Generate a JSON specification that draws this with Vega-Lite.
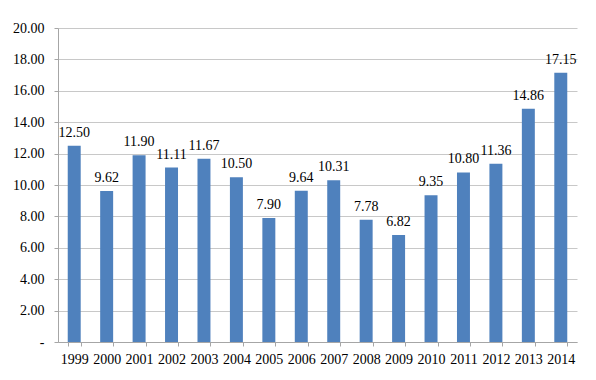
{
  "$schema": "https://vega.github.io/schema/vega-lite/v6.json",
  "autosize": {"type": "none"},
  "padding": {"left": 58, "top": 28, "right": 19, "bottom": 38},
  "width": 519,
  "height": 314,
  "background": "white",
  "config": {
    "view": {"stroke": null},
    "font": "Liberation Serif"
  },
  "data": {
    "values": [
      {"year": "1999", "value": 12.50},
      {"year": "2000", "value": 9.62},
      {"year": "2001", "value": 11.90},
      {"year": "2002", "value": 11.11},
      {"year": "2003", "value": 11.67},
      {"year": "2004", "value": 10.50},
      {"year": "2005", "value": 7.90},
      {"year": "2006", "value": 9.64},
      {"year": "2007", "value": 10.31},
      {"year": "2008", "value": 7.78},
      {"year": "2009", "value": 6.82},
      {"year": "2010", "value": 9.35},
      {"year": "2011", "value": 10.80},
      {"year": "2012", "value": 11.36},
      {"year": "2013", "value": 14.86},
      {"year": "2014", "value": 17.15}
    ]
  },
  "encoding": {
    "x": {
      "field": "year",
      "type": "ordinal",
      "scale": {"paddingInner": 0.6, "paddingOuter": 0.3},
      "axis": {
        "title": null,
        "labelAngle": 0,
        "labelFont": "Liberation Serif",
        "labelFontSize": 14,
        "labelColor": "#000000",
        "labelPadding": 6,
        "tickBand": "extent",
        "tickSize": 4,
        "tickColor": "#a6a6a6",
        "domainColor": "#a6a6a6",
        "grid": false
      }
    },
    "y": {
      "field": "value",
      "type": "quantitative",
      "scale": {"domain": [0, 20], "nice": false},
      "axis": {
        "title": null,
        "values": [0, 2, 4, 6, 8, 10, 12, 14, 16, 18, 20],
        "labelExpr": "datum.value === 0 ? '-\u00a0\u00a0' : format(datum.value, '.2f')",
        "labelFont": "Liberation Serif",
        "labelFontSize": 14,
        "labelColor": "#000000",
        "labelPadding": 10,
        "tickSize": 4,
        "tickColor": "#a6a6a6",
        "domainColor": "#a6a6a6",
        "gridColor": "#c8c8c8",
        "grid": true
      }
    }
  },
  "layer": [
    {"mark": {"type": "bar", "color": "#4F81BD"}},
    {
      "mark": {"type": "text", "baseline": "alphabetic", "dy": -9, "fontSize": 14, "font": "Liberation Serif", "color": "#000000"},
      "encoding": {"text": {"field": "value", "type": "quantitative", "format": ".2f"}}
    }
  ]
}
